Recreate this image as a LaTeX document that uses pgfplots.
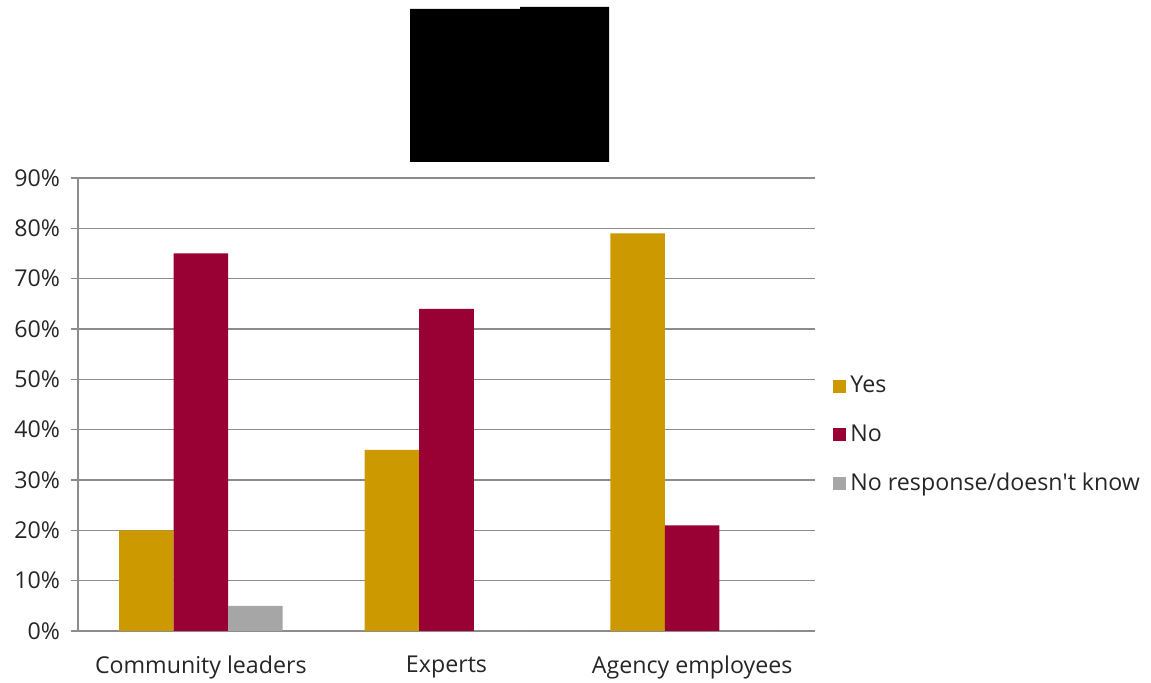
\documentclass[border=0pt]{standalone}
\usepackage{pgfplots}
\pgfplotsset{compat=1.18}
\usepackage{fontspec}
\setmainfont{Open Sans}
\definecolor{cyes}{HTML}{CC9900}
\definecolor{cno}{HTML}{990033}
\definecolor{cnr}{HTML}{A6A6A6}
\definecolor{cgrid}{HTML}{8C8C8C}
\definecolor{ctext}{HTML}{262626}
\begin{document}
\begin{tikzpicture}
\useasboundingbox (-39pt,-26pt) rectangle (536.5pt,315.5pt);
\fill[black] (166pt,234.5pt) -- (166pt,311pt) -- (221pt,311pt) -- (221pt,312pt) -- (265.5pt,312pt) -- (265.5pt,234.5pt) -- cycle;
\begin{axis}[
  at={(0,0)}, anchor=south west,
  scale only axis,
  width=368.5pt, height=226.5pt,
  xmin=-0.5, xmax=2.5,
  ymin=0, ymax=90,
  ytick={0,10,...,90},
  yticklabel={\pgfmathprintnumber{\tick}\%},
  /pgf/number format/assume math mode=true,
  xtick={0,1,2},
  xticklabels={Community leaders, Experts, Agency employees},
  major x tick style={draw=none},
  extra x ticks={-0.5,0.5,1.5,2.5},
  extra x tick labels={},
  extra x tick style={major tick length=4pt, tick style={draw=cgrid, line width=0.8pt}, grid=none},
  tick align=outside,
  major tick length=3.5pt,
  ytick style={draw=cgrid, line width=0.8pt},
  ymajorgrids,
  grid style={draw=cgrid, line width=0.8pt},
  axis line style={draw=cgrid, line width=0.8pt},
  axis x line*=bottom,
  axis y line*=left,
  tick label style={font=\fontsize{11.6}{14}\selectfont, text=ctext},
  xticklabel style={yshift=-5.5pt},
  yticklabel style={xshift=-2pt},
  ybar, bar width=0.222,
  legend style={at={(1.0,0.433)}, anchor=west, draw=none, fill=none,
    font=\fontsize{11.6}{14}\selectfont, text=ctext, row sep=10.3pt,
    xshift=6pt, cells={anchor=west}},
  legend image code/.code={\fill[#1] (0pt,-3.25pt) rectangle (6.5pt,3.25pt);},
]
\addplot[fill=cyes, draw=none, bar shift=-0.222] coordinates {(0,20) (1,36) (2,79)};
\addlegendentry{Yes}
\addplot[fill=cno, draw=none, bar shift=0] coordinates {(0,75) (1,64) (2,21)};
\addlegendentry{No}
\addplot[fill=cnr, draw=none, bar shift=0.222] coordinates {(0,5) (1,0) (2,0)};
\addlegendentry{No response/doesn\textquotesingle t know}
\end{axis}
\end{tikzpicture}
\end{document}
